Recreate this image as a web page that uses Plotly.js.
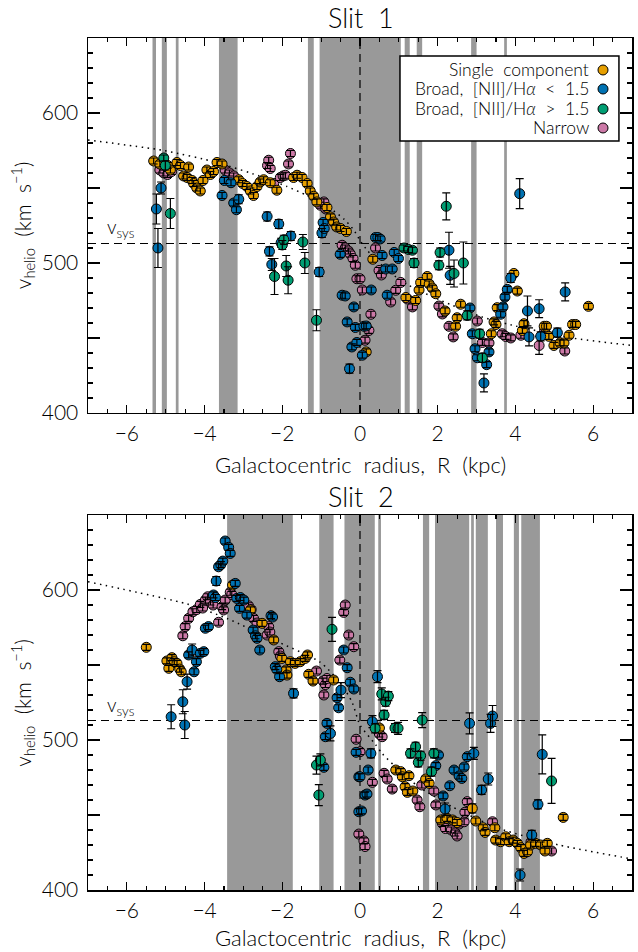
<!DOCTYPE html>
<html><head><meta charset="utf-8">
<script src="https://cdn.plot.ly/plotly-3.0.1.min.js"></script>
<style>html,body{margin:0;padding:0;background:#fff}</style>
</head><body><div id="chart" style="width:638px;height:952px"></div>
<script>
// ---------- data: Slit 1 ----------
const S1_SINGLE_R = [-5.31,-5.15,-4.95,-4.88,-4.71,-4.62,-4.54,-4.45,-4.41,-4.32,-4.28,-4.2,-4.11,-4.04,-3.94,-3.85,-3.77,-3.68,-3.55,-3.12,-3.02,-2.91,-2.82,-2.74,-2.65,-2.57,-2.48,-2.31,-2.14,-1.71,-1.62,-1.49,-1.36,-1.28,-1.19,-1.11,-0.85,-0.76,-0.68,-0.6,-0.5,-0.35,0.33,0.16,1.18,1.43,1.52,1.56,1.73,1.78,1.86,1.95,2.19,2.46,2.5,2.59,3.38,3.45,3.5,3.53,3.96,4.05,4.18,4.22,4.74,4.8,4.86,4.99,5.15,5.25,5.38,5.47,5.55,5.88];
const S1_SINGLE_V = [568,566,565,562,567,565,558,557,564,555,553,550,548,555,562,559,561,567,566,555.5,553,551,548,545,551,554,555.5,553.5,548.5,557,558.5,557,553,548,544.5,540.7,537,530.7,527.3,524,523,521,502.5,440.7,477,475,482,487,491,486,483.3,479.5,468,457.8,463.5,472.5,452.8,460.7,459,470.2,493,481.3,455,459.5,457.8,457.8,451.1,445,446.7,446.7,451.8,459,459,471.1];
const S1_SINGLE_E = [2,2,2,2,2,2,2,2,2,2,2,2,2,2,2,2,2,2,2,2,2,2,2,2,2,2,2,2,2,2,2,2,2,2,2,2,2,2,2,2,2,2,2,2,2,2,2,2,2,2,2,2,2,2,2,2,2,2,2,2,2,2,2,2,2,2,2,2,2,2,2,2,2,2];

const S1_BLUE_R = [-5.24,-5.2,-5.12,-3.55,-3.49,-3.32,-3.25,-3.18,-3.12,-2.39,-2.33,-2.27,-2.09,-2.03,-1.78,-1.05,-0.98,-0.95,-0.92,-0.51,-0.46,-0.38,-0.33,-0.27,-0.21,-0.16,-0.12,-0.08,0.06,0.1,0.16,0.29,0.4,0.46,0.52,0.57,0.66,0.7,0.83,0.88,0.99,2.29,2.32,2.83,2.89,2.96,3.02,3.19,3.26,3.32,3.62,3.68,3.73,3.79,3.88,4.11,4.31,4.35,4.61,4.65,5.08,5.28];
const S1_BLUE_V = [536,510,550,545,555,553.5,540,535.5,542.5,531,507.8,499,526,513.5,518,494,520,527,523,505.8,478.5,478,460.7,429.5,444,470.7,457,447,438.5,457.8,458,482,517,517,516,505,496,478.5,496,507,503,508.5,491.8,470,452.8,442.8,436.8,420,432.2,440.7,465.8,470.7,477.3,482.4,490,546.2,468,450.7,469.5,451.1,453.5,480.7];
const S1_BLUE_E = [10,13,4,2,2,2,2,2,3,3,3,4,3,3,3,3,3,2,2,2,2,2,2,3,2,2,2,2,2,2,2,2,2,2,2,2,2,2,2,2,2,12,6,2,2,2,2,6,2,2,2,2,2,2,3,10,10,6,6,3,3,6];

const S1_GREEN_R = [-5.05,-5.01,-4.88,-2.2,-2.0,-1.96,-1.9,-1.85,-1.47,-1.42,-1.12,1.13,1.25,1.35,1.39,2.03,2.06,2.22,2.42,2.66,2.76,3.08,3.15];
const S1_GREEN_V = [570,565,533,491,512,515.5,498,488.5,514,500,461.8,510,509,508.5,500,498.5,507,537.8,493,500,465,452.8,436.8];
const S1_GREEN_E = [2,3,10,12,3,3,7,9,5,7,7,2,2,2,3,3,3,9,9,14,3,3,3];

const S1_PINK_R = [-5.15,-5.05,-4.95,-4.85,-3.47,-3.36,-3.25,-2.38,-2.35,-2.31,-2.22,-2.05,-1.98,-1.92,-1.84,-1.79,-1.02,-0.93,-0.88,-0.46,-0.38,-0.3,-0.25,-0.18,-0.12,-0.08,0.0,0.06,0.13,0.23,0.28,0.4,0.49,0.55,0.79,0.92,1.05,1.22,1.35,2.03,2.12,2.29,2.4,3.02,3.15,3.32,3.66,3.75,3.88,4.14,4.61,4.75,5.27];
const S1_PINK_V = [562,560,559,561,562,560,558,565,568.5,563,553,557,558,558.5,566,573,538.5,540.7,536,511.8,510,508,506,503,498.5,489.5,489.5,482,448.5,455,465.8,510,495,492,474,481.8,487,476,470.7,471.3,466,457.8,450.7,461.3,447,446.7,452.8,451,450,451.8,445,455,441.3];
const S1_PINK_E = [2,2,2,2,2,2,2,2,2,2,2,2,2,2,2,2,2,2,2,2,2,2,2,2,2,2,2,2,2,2,2,2,2,2,2,2,2,2,2,2,2,2,2,2,2,2,2,2,2,2,6,2,2];

// ---------- data: Slit 2 ----------
const S2_SINGLE_R = [-5.5,-4.97,-4.92,-4.84,-4.78,-4.71,-4.64,-4.6,-3.28,-2.82,-2.52,-2.22,-2.01,-1.9,-1.88,-1.79,-1.67,-1.54,-1.41,-1.35,-1.32,-1.21,-0.68,0.5,0.92,1.05,1.09,1.16,1.22,1.26,1.36,1.69,1.78,2.08,2.24,2.38,2.5,2.89,2.98,3.17,3.22,3.47,3.49,3.62,3.75,3.84,3.94,4.05,4.14,4.22,4.31,4.39,4.52,4.65,4.76,4.82,5.23];
const S2_SINGLE_V = [561.8,552.7,547.8,554.9,552.2,551.1,547.3,545.5,603.3,586.7,577.8,566.7,554.4,546.7,543.3,552.2,551.1,552.2,554.4,556.7,543.8,539.3,540,508,480,478.9,475.5,468.9,465.1,476.2,466,474,471.1,446.7,447.8,446.7,445,454.4,446,441.5,438.4,441.5,433.3,432.2,435.5,432.2,433.3,431.1,428.2,424.4,425.5,430,431.1,430,426,431.1,448.4];
const S2_SINGLE_E = [2,2,2,2,2,2,2,2,2,2,2,2,2,2,2,2,2,2,2,2,2,2,2,2,2,2,2,2,2,2,2,2,2,2,2,2,2,3,2,2,2,2,2,2,2,2,2,2,2,2,2,2,2,2,2,2,2];

const S2_BLUE_R = [-4.86,-4.56,-4.51,-4.45,-4.41,-4.32,-4.27,-4.21,-4.11,-4.02,-3.98,-3.9,-3.77,-3.72,-3.7,-3.64,-3.58,-3.53,-3.47,-3.38,-3.34,-3.21,-3.17,-3.1,-3.08,-2.99,-2.91,-2.75,-2.69,-2.65,-2.58,-2.29,-2.25,-2.18,-2.14,-2.07,-1.71,-0.93,-0.89,-0.85,-0.76,-0.59,-0.55,-0.49,-0.42,-0.33,-0.25,-0.16,-0.1,-0.03,-0.03,0.0,0.04,0.13,0.18,0.21,0.28,0.32,0.45,1.95,2.02,2.14,2.19,2.31,2.42,2.55,2.62,2.68,2.76,2.82,2.93,3.13,3.3,3.36,3.41,4.12,4.42,4.58,4.69];
const S2_BLUE_V = [515.5,525.5,510,538.9,556.7,560,545.5,552.2,557.8,558.9,574.5,575.6,596.7,595,606,615.5,617,619.3,632.7,628.5,624.4,604.4,594.4,587.8,595,593.3,583.3,573.3,569.5,567.8,560,582.9,582,548.9,547,542.2,531.1,481.8,502.2,511.1,504.4,528.2,521.5,533.3,560,548.2,538.5,534,491.8,475.5,452.2,475.5,452.7,463.3,464,480,491.1,512.2,542.2,482.9,490,462.7,454,469.5,480,476,474.4,482,488.9,511.1,491.1,466.7,474,511.1,516,410,436.7,457.1,490.4];
const S2_BLUE_E = [8,8,9,5,2,4,2,2,2,2,2,2,2,2,3,2,2,2,2,2,2,2,2,2,2,2,2,2,2,2,2,2,2,2,2,2,3,2,2,2,5,2,2,5,2,2,2,2,2,2,2,2,2,2,2,2,3,4,4,2,2,2,4,2,2,2,2,2,2,7,4,3,4,6,7,4,3,3,13];

const S2_GREEN_R = [-1.12,-1.06,-1.02,-0.72,0.39,0.56,0.62,0.66,0.73,0.9,0.98,1.3,1.43,1.5,1.56,1.6,1.84,1.9,4.93];
const S2_GREEN_V = [483.3,463.3,486.7,573.8,507.8,530.7,516.7,525.5,529.3,508,507.8,491.1,495.5,485.1,489.5,513.3,478.9,491.1,472.7];
const S2_GREEN_E = [6,7,4,8,3,4,3,3,3,3,4,3,3,3,3,5,3,3,15];

const S2_PINK_R = [-4.56,-4.5,-4.41,-4.3,-4.2,-4.11,-4.05,-3.98,-3.92,-3.85,-3.78,-3.64,-3.55,-3.51,-3.47,-3.34,-3.3,-2.87,-2.8,-2.74,-2.65,-2.39,-2.35,-2.32,-2.09,-2.05,-1.12,-0.95,-0.93,-0.89,-0.85,-0.52,-0.42,-0.38,-0.29,-0.16,-0.1,-0.03,0.0,0.1,0.13,0.32,0.5,0.57,0.62,0.7,0.83,1.47,1.54,1.59,1.9,1.95,2.12,2.2,2.35,2.45,2.5,2.55,2.68,2.7,2.76,3.41,4.4,4.93];
const S2_PINK_V = [569.5,575.6,581.1,585.5,587,590.4,588,593.3,595.5,592,590,578.5,588.9,586.7,593.3,598.5,597,589.5,587,581.1,578,570,575.6,572,558.9,556,546,539.3,530,537,541,553.3,585.1,590,570,562.2,500.5,437.3,492.2,432.7,429,471.8,504,502.2,477.8,474,467.3,460,455.5,470,466,456.7,444.4,441,440,438,436,444,445.5,451.8,458.9,445.5,432,426];
const S2_PINK_E = [2,2,2,2,2,2,2,2,2,2,2,2,2,2,2,2,2,2,2,2,2,2,2,2,2,2,2,2,2,2,2,2,2,2,2,2,2,2,2,2,2,2,2,2,2,2,2,2,2,2,2,2,2,2,2,2,2,2,2,2,2,2,2,2];

// excluded (grey) regions, kpc
const BAND1_LO = [-5.34,-5.10,-4.74,-3.63,-1.34,-1.04,1.15,1.46,2.86,3.71];
const BAND1_HI = [-5.25,-4.97,-4.67,-3.15,-1.19,1.05,1.28,1.60,3.00,3.78];
const BAND2_LO = [-3.42,-1.05,-0.40,0.47,1.62,1.93,2.86,2.98,3.50,3.96,4.15];
const BAND2_HI = [-1.73,-0.68,0.38,0.54,1.78,2.81,2.93,3.29,3.68,4.09,4.63];

// model rotation curves
const MODEL1_R = [-7,-5.05,-3.68,-2.48,-1.88,-1.36,-0.8,-0.4,-0.16,0,0.2,0.5,0.8,1.26,2.08,3.14,4.0,5.46,7];
const MODEL1_V = [582,575,567,557,551,545,537,529,522,515,508,500,493,485,475,464,458,450,445];
const MODEL2_R = [-7,-4.45,-3.42,-2.22,-1.03,-0.5,-0.2,0,0.4,0.57,1.0,1.5,2.37,3.58,5.12,7];
const MODEL2_V = [605.5,590.7,581,566.7,552,538,525,510,497,491,480,469,455.5,441,430,420.7];

const VSYS = 513;

// axis ticks
const X_MAJOR_DTICK = 2, X_MINOR_DTICK = 0.5;
const Y_LABEL_TICKS = [400, 500, 600];
const Y_MID_TICKS = [450, 550, 650];
const Y_MINOR_DTICK = 10;

const LEG_LABELS = ['Single\u00a0 component', 'Broad,\u00a0 [NII]/H<i>\u03b1</i>\u00a0 &lt;\u00a0 1.5', 'Broad,\u00a0 [NII]/H<i>\u03b1</i>\u00a0 &gt;\u00a0 1.5', 'Narrow'];
const COLORS = ['#E69F00', '#0072B2', '#009E73', '#CC79A7'];

const F = 'Lato, Liberation Sans, Arial, sans-serif';
const FW = 300;
const font = (size) => ({family:F, size:size, color:'#000', weight:FW});

function series(R, V, E, color, xa, ya) {
  const m = {type:'scatter', mode:'markers', x:R, y:V, xaxis:xa, yaxis:ya,
    marker:{size:10, color:color, line:{color:'#000', width:1}},
    showlegend:false, hoverinfo:'skip'};
  const e = {type:'scatter', mode:'markers', x:R, y:V, xaxis:xa, yaxis:ya,
    marker:{size:1, color:'rgba(0,0,0,0)'},
    error_y:{type:'data', array:E, visible:true, color:'#000', thickness:1.2, width:4},
    showlegend:false, hoverinfo:'skip'};
  return [m, e];
}

const traces = [];
traces.push({type:'scatter', mode:'lines', x:MODEL1_R, y:MODEL1_V, xaxis:'x', yaxis:'y',
  line:{color:'#000', width:1.5, dash:'1.5px,4.5px', shape:'spline', smoothing:0.6}, showlegend:false, hoverinfo:'skip'});
traces.push({type:'scatter', mode:'lines', x:MODEL2_R, y:MODEL2_V, xaxis:'x2', yaxis:'y2',
  line:{color:'#000', width:1.5, dash:'1.5px,4.5px', shape:'spline', smoothing:0.6}, showlegend:false, hoverinfo:'skip'});
// empty traces so the overlay tick axes exist
traces.push({type:'scatter', mode:'markers', x:[], y:[], xaxis:'x', yaxis:'y3', showlegend:false, hoverinfo:'skip'});
traces.push({type:'scatter', mode:'markers', x:[], y:[], xaxis:'x2', yaxis:'y4', showlegend:false, hoverinfo:'skip'});

traces.push(...series(S1_PINK_R, S1_PINK_V, S1_PINK_E, COLORS[3], 'x', 'y'));
traces.push(...series(S1_SINGLE_R, S1_SINGLE_V, S1_SINGLE_E, COLORS[0], 'x', 'y'));
traces.push(...series(S1_BLUE_R, S1_BLUE_V, S1_BLUE_E, COLORS[1], 'x', 'y'));
traces.push(...series(S1_GREEN_R, S1_GREEN_V, S1_GREEN_E, COLORS[2], 'x', 'y'));
traces.push(...series(S2_PINK_R, S2_PINK_V, S2_PINK_E, COLORS[3], 'x2', 'y2'));
traces.push(...series(S2_SINGLE_R, S2_SINGLE_V, S2_SINGLE_E, COLORS[0], 'x2', 'y2'));
traces.push(...series(S2_BLUE_R, S2_BLUE_V, S2_BLUE_E, COLORS[1], 'x2', 'y2'));
traces.push(...series(S2_GREEN_R, S2_GREEN_V, S2_GREEN_E, COLORS[2], 'x2', 'y2'));

const shapes = [];
function bands(lo, hi, xr, yr) {
  for (let i = 0; i < lo.length; i++) {
    shapes.push({type:'rect', xref:xr, yref:yr + ' domain', x0:lo[i], x1:hi[i], y0:0, y1:1,
      fillcolor:'#999999', line:{width:0}, layer:'below'});
  }
}
bands(BAND1_LO, BAND1_HI, 'x', 'y');
bands(BAND2_LO, BAND2_HI, 'x2', 'y2');
[['x','y'],['x2','y2']].forEach(([xr, yr]) => {
  shapes.push({type:'line', xref:xr, yref:yr + ' domain', x0:0, x1:0, y0:0, y1:1,
    line:{color:'#000', width:1.2, dash:'8px,5px'}, layer:'below'});
  shapes.push({type:'line', xref:xr + ' domain', yref:yr, x0:0, x1:1, y0:VSYS, y1:VSYS,
    line:{color:'#000', width:1.2, dash:'8px,5px'}, layer:'below'});
});

// legend box (top panel)
shapes.push({type:'rect', xref:'x domain', yref:'y domain', x0:0.5735, x1:0.976, y0:0.7253, y1:0.952,
  fillcolor:'#fff', line:{color:'#000', width:1.5}, layer:'above'});
const rowY = [0.9147, 0.864, 0.8107, 0.76];
const annotations = [];
for (let i = 0; i < 4; i++) {
  annotations.push({xref:'x domain', yref:'y domain', x:0.9228, y:rowY[i], xanchor:'right', yanchor:'middle',
    text:LEG_LABELS[i], showarrow:false, font:font(17.5), borderpad:0});
  shapes.push({type:'circle', xref:'x domain', yref:'y domain',
    x0:0.9467 - 0.0092, x1:0.9467 + 0.0092, y0:rowY[i] - 0.0133, y1:rowY[i] + 0.0133,
    fillcolor:COLORS[i], line:{color:'#000', width:1}, layer:'above'});
}

// titles and labels
const T = (o) => Object.assign({showarrow:false, font:font(21)}, o);
annotations.push(T({xref:'paper', yref:'paper', x:0.5018, y:1.0246, xanchor:'center', yanchor:'middle', text:'Slit\u00a0 1', font:font(27)}));
annotations.push(T({xref:'paper', yref:'paper', x:0.5018, y:0.4613, xanchor:'center', yanchor:'middle', text:'Slit\u00a0 2', font:font(27)}));
annotations.push(T({xref:'paper', yref:'paper', x:0.5018, y:0.5, xanchor:'center', yanchor:'middle', text:'Galactocentric\u00a0 radius,\u00a0 R\u00a0 (kpc)', font:font(22)}));
annotations.push(T({xref:'paper', yref:'paper', x:0.5018, y:-0.0552, xanchor:'center', yanchor:'middle', text:'Galactocentric\u00a0 radius,\u00a0 R\u00a0 (kpc)', font:font(22)}));
annotations.push(T({xref:'paper', yref:'paper', x:-0.12, y:0.78, xanchor:'center', yanchor:'middle', textangle:-90, text:'v<sub>helio</sub>\u00a0 (km\u00a0 s<sup>\u22121</sup>)'}));
annotations.push(T({xref:'paper', yref:'paper', x:-0.12, y:0.2195, xanchor:'center', yanchor:'middle', textangle:-90, text:'v<sub>helio</sub>\u00a0 (km\u00a0 s<sup>\u22121</sup>)'}));
annotations.push(T({xref:'x', yref:'y', x:-6.55, y:VSYS + 10, xanchor:'left', yanchor:'middle', text:'v<sub>sys</sub>', font:font(19)}));
annotations.push(T({xref:'x2', yref:'y2', x:-6.55, y:VSYS + 10, xanchor:'left', yanchor:'middle', text:'v<sub>sys</sub>', font:font(19)}));

const LINE = {showline:true, linecolor:'#000', linewidth:1.5, mirror:'ticks', showgrid:false, zeroline:false};
const xax = (anchor) => Object.assign({anchor:anchor, range:[-7,7], tickmode:'linear', tick0:0, dtick:X_MAJOR_DTICK,
  ticks:'inside', ticklen:8, tickwidth:1.2, tickcolor:'#000',
  minor:{tickmode:'linear', tick0:0, dtick:X_MINOR_DTICK, ticks:'inside', ticklen:4, tickwidth:1.2, tickcolor:'#000', showgrid:false},
  tickfont:font(21), ticklabelstandoff:1}, LINE);
const yax = (anchor, domain) => Object.assign({anchor:anchor, domain:domain, range:[400,650], tickmode:'array',
  tickvals:Y_LABEL_TICKS,
  ticks:'inside', ticklen:12, tickwidth:1.2, tickcolor:'#000',
  minor:{tickmode:'linear', tick0:400, dtick:Y_MINOR_DTICK, ticks:'inside', ticklen:5, tickwidth:1.2, tickcolor:'#000', showgrid:false},
  tickfont:font(21), ticklabelstandoff:4}, LINE);
const ymid = (anchor, over) => Object.assign({anchor:anchor, overlaying:over, side:'left', range:[400,650], tickmode:'array',
  tickvals:Y_MID_TICKS, ticks:'inside', ticklen:12, tickwidth:1.2, tickcolor:'#000', showticklabels:false}, LINE);

const layout = {
  width:638, height:952, margin:{l:88, r:6, t:38, b:62},
  paper_bgcolor:'#fff', plot_bgcolor:'#fff', showlegend:false,
  font:{family:F, color:'#000'},
  xaxis:xax('y'), yaxis:yax('x', [0.5599, 1]),
  xaxis2:xax('y2'), yaxis2:yax('x2', [0, 0.4401]),
  yaxis3:ymid('x', 'y'), yaxis4:ymid('x2', 'y2'),
  shapes:shapes, annotations:annotations
};

Plotly.newPlot('chart', traces, layout, {staticPlot:true, displayModeBar:false}).then((gd) => {
  // drop empty placeholder text nodes (unused axis titles etc.)
  gd.querySelectorAll('text').forEach((t) => { if (!t.textContent.trim()) t.remove(); });
});
</script></body></html>
